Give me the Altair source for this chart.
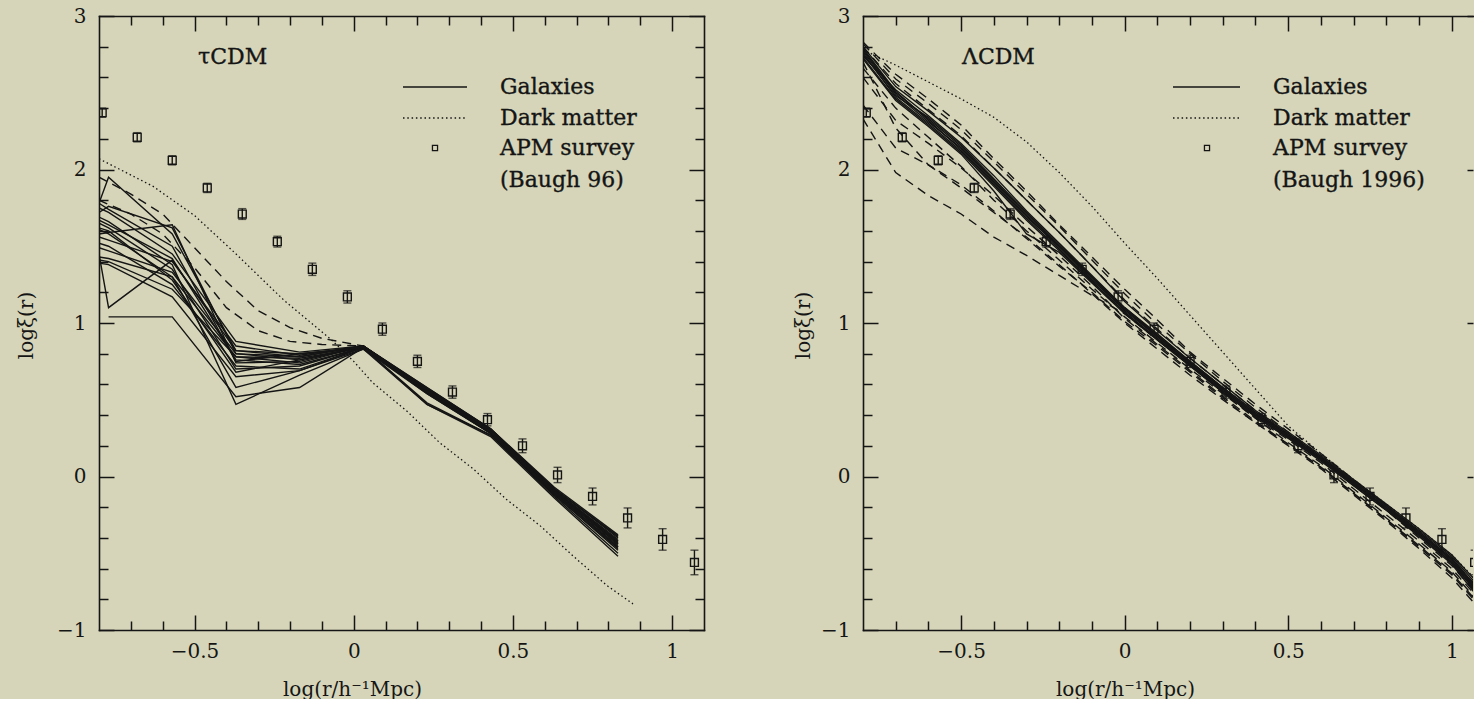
import altair as alt
import pandas as pd

INK = "#151515"
PAPER = "#d6d5b9"
FONT = "DejaVu Serif"

# ---------------- APM survey (Baugh 1996) ----------------
APM_X = [-0.79, -0.68, -0.57, -0.46, -0.35, -0.24, -0.13, -0.02, 0.09, 0.20,
         0.31, 0.42, 0.53, 0.64, 0.75, 0.86, 0.97, 1.07]
APM_Y = [2.37, 2.21, 2.06, 1.88, 1.71, 1.53, 1.35, 1.17, 0.96, 0.75,
         0.55, 0.37, 0.20, 0.01, -0.13, -0.27, -0.41, -0.56]
APM_ERR = [0.03, 0.03, 0.03, 0.03, 0.035, 0.035, 0.04, 0.04, 0.04, 0.04,
           0.04, 0.04, 0.045, 0.05, 0.055, 0.065, 0.07, 0.08]

# ---------------- tau CDM panel ----------------
TAU_X = [-0.8, -0.77, -0.57, -0.37, -0.17, 0.03, 0.23, 0.43, 0.63, 0.83]
TAU_GAL = [
    [1.78, 1.95, 1.58, 0.82, 0.78, 0.85, 0.57, 0.30, -0.08, -0.39],
    [1.72, 1.76, 1.62, 0.80, 0.76, 0.84, 0.55, 0.29, -0.10, -0.43],
    [1.58, 1.59, 1.64, 0.74, 0.75, 0.85, 0.57, 0.31, -0.08, -0.40],
    [1.45, 1.10, 1.41, 0.82, 0.80, 0.84, 0.56, 0.29, -0.09, -0.42],
    [None, 1.04, 1.04, 0.52, 0.58, 0.84, 0.48, 0.27, -0.12, -0.48],
    [1.69, 1.66, 1.38, 0.47, 0.66, 0.83, 0.47, 0.27, -0.13, -0.50],
    [1.75, 1.72, 1.45, 0.88, 0.81, 0.85, 0.58, 0.31, -0.07, -0.38],
    [1.65, 1.62, 1.35, 0.70, 0.72, 0.84, 0.55, 0.28, -0.11, -0.46],
    [1.61, 1.58, 1.30, 0.78, 0.74, 0.85, 0.56, 0.29, -0.10, -0.44],
    [1.52, 1.50, 1.25, 0.72, 0.70, 0.84, 0.54, 0.28, -0.12, -0.47],
    [1.41, 1.40, 1.22, 0.78, 0.77, 0.84, 0.57, 0.30, -0.09, -0.41],
    [1.39, 1.38, 1.17, 0.65, 0.69, 0.83, 0.54, 0.28, -0.11, -0.45],
    [1.56, 1.54, 1.40, 0.85, 0.79, 0.85, 0.58, 0.31, -0.08, -0.39],
    [1.67, 1.64, 1.42, 0.76, 0.73, 0.84, 0.56, 0.29, -0.10, -0.43],
    [1.43, 1.42, 1.30, 0.58, 0.69, 0.84, 0.47, 0.26, -0.14, -0.52],
    [1.49, 1.47, 1.33, 0.80, 0.78, 0.85, 0.57, 0.30, -0.09, -0.42],
    [1.78, 1.74, 1.50, 0.75, 0.80, 0.84, 0.55, 0.29, -0.10, -0.44],
    [1.62, 1.60, 1.28, 0.68, 0.76, 0.85, 0.56, 0.29, -0.11, -0.46],
]
TAU_DASH_X = [-0.8, -0.7, -0.6, -0.5, -0.4, -0.3, -0.2, -0.1, 0.03, 0.23, 0.43, 0.63, 0.83]
TAU_DASH = [
    [1.95, 1.84, 1.71, 1.49, 1.27, 1.08, 0.97, 0.90, 0.85, 0.56, 0.29, -0.09, -0.42],
    [1.80, 1.71, 1.58, 1.36, 1.10, 0.95, 0.88, 0.86, 0.85, 0.55, 0.29, -0.10, -0.44],
]
TAU_DM_X = [-0.8, -0.63, -0.5, -0.375, -0.22, -0.07, 0.0, 0.06, 0.17, 0.27, 0.375,
            0.48, 0.585, 0.69, 0.795, 0.877]
TAU_DM = [[2.07, 1.89, 1.70, 1.46, 1.15, 0.89, 0.75, 0.61, 0.42, 0.22, 0.05,
           -0.15, -0.32, -0.52, -0.71, -0.83]]

# ---------------- Lambda CDM panel ----------------
LAM_X = [-0.8, -0.7, -0.6, -0.5, -0.4, -0.3, -0.2, -0.1, 0.0, 0.1,
         0.2, 0.3, 0.4, 0.5, 0.6, 0.7, 0.8, 0.9, 1.0, 1.1]
LAM_GAL = [
    [2.78, 2.50, 2.33, 2.15, 1.93, 1.71, 1.50, 1.29, 1.08, 0.91, 0.74, 0.57, 0.41, 0.27, 0.12, -0.04, -0.20, -0.37, -0.54, -0.79],
    [2.76, 2.47, 2.30, 2.12, 1.90, 1.68, 1.48, 1.27, 1.07, 0.90, 0.73, 0.56, 0.40, 0.26, 0.11, -0.05, -0.21, -0.38, -0.56, -0.82],
    [2.74, 2.52, 2.35, 2.17, 1.96, 1.73, 1.52, 1.31, 1.10, 0.93, 0.75, 0.58, 0.42, 0.28, 0.13, -0.03, -0.19, -0.35, -0.52, -0.76],
    [2.72, 2.45, 2.28, 2.10, 1.86, 1.58, 1.46, 1.26, 1.06, 0.89, 0.72, 0.55, 0.39, 0.25, 0.10, -0.06, -0.22, -0.39, -0.57, -0.84],
    [2.80, 2.54, 2.38, 2.21, 2.01, 1.80, 1.59, 1.37, 1.14, 0.95, 0.77, 0.60, 0.43, 0.29, 0.14, -0.02, -0.18, -0.34, -0.51, -0.74],
    [2.77, 2.49, 2.31, 2.14, 1.92, 1.70, 1.49, 1.28, 1.09, 0.92, 0.74, 0.57, 0.41, 0.27, 0.12, -0.04, -0.21, -0.37, -0.55, -0.80],
    [2.75, 2.48, 2.34, 2.16, 1.94, 1.72, 1.51, 1.30, 1.09, 0.91, 0.73, 0.56, 0.40, 0.26, 0.12, -0.05, -0.20, -0.36, -0.53, -0.78],
    [2.79, 2.51, 2.32, 2.13, 1.91, 1.69, 1.50, 1.30, 1.10, 0.92, 0.75, 0.58, 0.42, 0.28, 0.13, -0.03, -0.19, -0.36, -0.54, -0.79],
    [2.73, 2.46, 2.29, 2.11, 1.89, 1.67, 1.47, 1.27, 1.07, 0.89, 0.72, 0.55, 0.39, 0.25, 0.11, -0.06, -0.22, -0.38, -0.56, -0.81],
]
LAM_DASH = [
    [2.83, 2.62, 2.46, 2.29, 2.07, 1.86, 1.64, 1.43, 1.22, 1.02, 0.81, 0.64, 0.47, 0.31, 0.15, -0.02, -0.19, -0.36, -0.54, -0.77],
    [2.82, 2.59, 2.43, 2.26, 2.05, 1.84, 1.63, 1.41, 1.19, 0.99, 0.80, 0.62, 0.45, 0.29, 0.13, -0.04, -0.21, -0.38, -0.56, -0.80],
    [2.80, 2.56, 2.39, 2.22, 2.01, 1.80, 1.59, 1.37, 1.15, 0.96, 0.77, 0.60, 0.43, 0.27, 0.12, -0.05, -0.22, -0.40, -0.58, -0.82],
    [2.60, 2.32, 2.17, 2.01, 1.83, 1.63, 1.44, 1.24, 1.03, 0.86, 0.69, 0.52, 0.36, 0.21, 0.06, -0.11, -0.28, -0.46, -0.64, -0.88],
    [2.42, 2.14, 2.03, 1.88, 1.72, 1.56, 1.38, 1.19, 1.00, 0.83, 0.66, 0.50, 0.35, 0.20, 0.05, -0.12, -0.29, -0.47, -0.66, -0.90],
    [2.33, 1.98, 1.83, 1.71, 1.56, 1.44, 1.31, 1.18, 1.06, 0.89, 0.73, 0.55, 0.38, 0.22, 0.07, -0.10, -0.27, -0.44, -0.62, -0.86],
    [2.70, 2.27, 2.03, 1.90, 1.73, 1.55, 1.37, 1.20, 1.01, 0.85, 0.68, 0.51, 0.35, 0.21, 0.06, -0.11, -0.28, -0.45, -0.63, -0.87],
    [2.66, 2.40, 2.21, 2.02, 1.80, 1.60, 1.41, 1.22, 1.04, 0.87, 0.70, 0.54, 0.38, 0.24, 0.09, -0.08, -0.25, -0.42, -0.60, -0.84],
]
LAM_DM = [[2.78, 2.68, 2.57, 2.46, 2.34, 2.18, 1.98, 1.76, 1.52, 1.29, 1.05, 0.81, 0.57, 0.33, 0.15, -0.02, -0.18, -0.34, -0.51, -0.73]]

# ---------------- axis ticks and texts ----------------
X_MAJOR = [-0.5, 0, 0.5, 1]
X_MINOR = [-0.7, -0.6, -0.4, -0.3, -0.2, -0.1, 0.1, 0.2, 0.3, 0.4, 0.6, 0.7, 0.8, 0.9]
Y_MAJOR = [-1, 0, 1, 2, 3]
Y_MINOR = [-0.8, -0.6, -0.4, -0.2, 0.2, 0.4, 0.6, 0.8, 1.2, 1.4, 1.6, 1.8, 2.2, 2.4, 2.6, 2.8]
X_TITLE = "log(r/h\u207b\u00b9Mpc)"
Y_TITLE = "log\u03be(r)"
LEGEND_TEXT = ["Galaxies", "Dark matter", "APM survey"]


def long_df(xs, rows):
    recs = []
    for i, row in enumerate(rows):
        for x, y in zip(xs, row):
            if y is not None:
                recs.append({"x": x, "y": y, "id": i})
    return pd.DataFrame(recs)


ONE = pd.DataFrame({"x": [0.0], "y": [1.0]})


def build_panel(p):
    xs = alt.Scale(domain=[-0.8, p["xmax"]], nice=False, zero=False)
    ys = alt.Scale(domain=[-1, 3], nice=False, zero=False)

    def X(field="x"):
        return alt.X(f"{field}:Q", scale=xs, axis=None)

    def Y(field="y"):
        return alt.Y(f"{field}:Q", scale=ys, axis=None)

    layers = []
    layers.append(alt.Chart(p["dm"]).mark_line(
        clip=True, color=INK, strokeWidth=1.3, strokeDash=[1.5, 2.8]
    ).encode(x=X(), y=Y(), detail="id:N"))
    layers.append(alt.Chart(p["dash"]).mark_line(
        clip=True, color=INK, strokeWidth=1.4, strokeDash=[9, 6]
    ).encode(x=X(), y=Y(), detail="id:N"))
    layers.append(alt.Chart(p["gal"]).mark_line(
        clip=True, color=INK, strokeWidth=1.4
    ).encode(x=X(), y=Y(), detail="id:N"))

    apm = pd.DataFrame({
        "x": APM_X, "y": APM_Y,
        "lo": [y - e for y, e in zip(APM_Y, APM_ERR)],
        "hi": [y + e for y, e in zip(APM_Y, APM_ERR)],
    })
    layers.append(alt.Chart(apm).mark_rule(clip=True, color=INK, strokeWidth=1.4).encode(
        x=X(), y=Y("lo"), y2=alt.Y2("hi:Q")))
    for f in ("lo", "hi"):
        layers.append(alt.Chart(apm).mark_tick(
            clip=True, color=INK, orient="horizontal", size=8, thickness=1.4
        ).encode(x=X(), y=Y(f)))
    layers.append(alt.Chart(apm).mark_point(
        clip=True, shape="square", filled=False, size=62, strokeWidth=1.4, color=INK, opacity=1
    ).encode(x=X(), y=Y()))

    # legend and panel label (pixel placement inside the plot)
    lg = p["legend"]
    text_style = dict(font=FONT, fontSize=22, color=INK, stroke=INK, strokeWidth=0.35)
    layers.append(alt.Chart(ONE).mark_rule(color=INK, strokeWidth=1.4).encode(
        x=alt.value(lg["x0"]), x2=alt.value(lg["x1"]), y=alt.value(lg["rows"][0])))
    layers.append(alt.Chart(ONE).mark_rule(color=INK, strokeWidth=1.3, strokeDash=[1.5, 2.8]).encode(
        x=alt.value(lg["x0"]), x2=alt.value(lg["x1"]), y=alt.value(lg["rows"][1])))
    layers.append(alt.Chart(ONE).mark_point(
        shape="square", filled=False, size=26, strokeWidth=1.3, color=INK, opacity=1
    ).encode(x=alt.value(lg["sq"]), y=alt.value(lg["rows"][2])))
    texts = LEGEND_TEXT + [p["ref"]]
    for t, yy in zip(texts, lg["rows"]):
        layers.append(alt.Chart(ONE).mark_text(
            text=t, align="left", baseline="middle", **text_style
        ).encode(x=alt.value(lg["tx"]), y=alt.value(yy)))
    layers.append(alt.Chart(ONE).mark_text(
        text=p["label"], align="left", baseline="middle", **text_style
    ).encode(x=alt.value(p["label_x"]), y=alt.value(p["label_y"])))

    # axes: inward ticks via negative offset
    def tick_axis(orient, values, size, labels=False, **kw):
        d = dict(orient=orient, values=values, tickSize=size, offset=-size,
                 tickColor=INK, tickWidth=1.5, domain=False, grid=False,
                 labels=labels, title=None)
        d.update(kw)
        return alt.Axis(**d)

    def domain_axis(orient):
        return alt.Axis(orient=orient, domain=True, domainColor=INK, domainWidth=1.6,
                        domainCap="square", ticks=False, labels=False, grid=False,
                        title=None, offset=0)

    def axis_layer(xa, ya):
        return alt.Chart(ONE).mark_point(opacity=0, size=1).encode(
            x=alt.X("x:Q", scale=xs, axis=xa), y=alt.Y("y:Q", scale=ys, axis=ya))

    label_kw = dict(labelFont=FONT, labelFontSize=20, labelColor=INK, format="~g",
                    labelFlush=False, labelOverlap=False)
    title_kw = dict(titleFont=FONT, titleFontSize=20, titleFontWeight="normal",
                    titleColor=INK, titleBaseline="middle", titleAlign="center")

    bottom_major = tick_axis("bottom", X_MAJOR, 15, labels=True, labelPadding=11,
                             **label_kw, **{**title_kw, "title": X_TITLE,
                                            "titleX": p["xtitle_x"], "titleY": 74})
    left_major = tick_axis("left", Y_MAJOR, 15, labels=True, labelPadding=13,
                           **label_kw, **{**title_kw, "title": Y_TITLE,
                                          "titleX": p["ytitle_x"], "titleY": 309,
                                          "titleAngle": 270})
    layers.append(axis_layer(bottom_major, left_major))
    layers.append(axis_layer(tick_axis("bottom", X_MINOR, 9), tick_axis("left", Y_MINOR, 9)))
    layers.append(axis_layer(tick_axis("top", X_MAJOR, 15),
                             tick_axis("right", Y_MAJOR, p["right_major"])))
    if p["right_minor"]:
        layers.append(axis_layer(tick_axis("top", X_MINOR, 9), tick_axis("right", Y_MINOR, 9)))
    else:
        layers.append(axis_layer(tick_axis("top", X_MINOR, 9), None))
    layers.append(axis_layer(domain_axis("bottom"), domain_axis("left")))
    layers.append(axis_layer(domain_axis("top"), domain_axis("right") if p["right_frame"] else None))

    return alt.layer(*layers).resolve_axis(x="independent", y="independent").properties(
        width=p["width"], height=614)


left = build_panel(dict(
    xmax=1.1, width=605,
    gal=long_df(TAU_X, TAU_GAL), dash=long_df(TAU_DASH_X, TAU_DASH), dm=long_df(TAU_DM_X, TAU_DM),
    legend=dict(x0=304, x1=368, sq=336, tx=401, rows=[71, 102, 132, 164]),
    ref="(Baugh 96)", label="\u03c4CDM", label_x=99, label_y=41,
    xtitle_x=253, ytitle_x=-88, right_major=15, right_minor=True, right_frame=True,
))
right = build_panel(dict(
    xmax=1.065, width=610,
    gal=long_df(LAM_X, LAM_GAL), dash=long_df(LAM_X, LAM_DASH), dm=long_df(LAM_X, LAM_DM),
    legend=dict(x0=310, x1=377, sq=344, tx=410, rows=[71, 102, 132, 164]),
    ref="(Baugh 1996)", label="\u039bCDM", label_x=99, label_y=41,
    xtitle_x=262, ytitle_x=-75, right_major=6, right_minor=False, right_frame=False,
))

chart = alt.hconcat(left, right, spacing=159, bounds="flush").properties(
    padding={"left": 16, "top": 6, "right": 0, "bottom": 0},
    background=PAPER,
).configure_view(stroke=None)

chart.save("out.html", embed_options={"renderer": "svg", "actions": False})
